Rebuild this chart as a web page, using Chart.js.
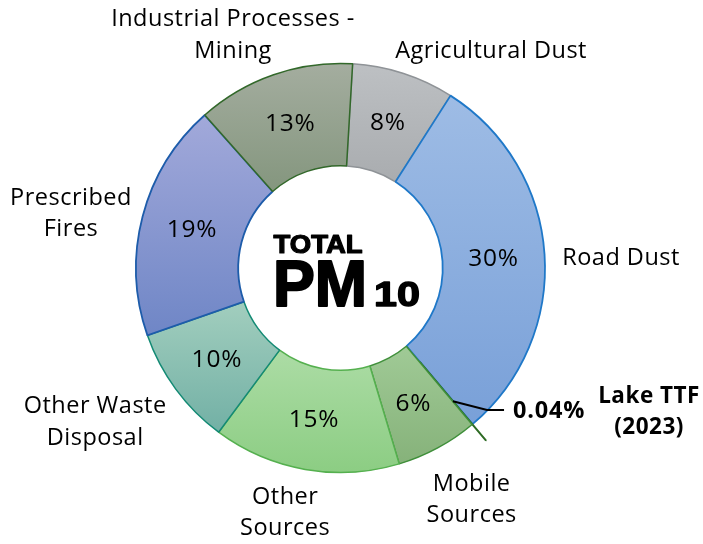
<!DOCTYPE html>
<html><head><meta charset="utf-8">
<script src="https://cdn.jsdelivr.net/npm/chart.js@4.4.1/dist/chart.umd.min.js"></script>
<style>html,body{margin:0;padding:0;background:#fff;overflow:hidden}#wrap{width:703px;height:544px;position:relative}</style>
</head><body><div id="wrap"><canvas id="c" width="703" height="544"></canvas></div>
<script>
// ---- data ----
const categories = ['Agricultural Dust','Road Dust','Lake TTF (2023)','Mobile Sources','Other Sources','Other Waste Disposal','Prescribed Fires','Industrial Processes - Mining'];
const categoryLines = [['Agricultural Dust'],['Road Dust'],['Lake TTF','(2023)'],['Mobile','Sources'],['Other','Sources'],['Other Waste','Disposal'],['Prescribed','Fires'],['Industrial Processes -','Mining']];
const shares = [8.1, 29.8, 0.04, 6.5, 14.8, 9.5, 18.8, 12.5];
const shareLabels = ['8%','30%','0.04%','6%','15%','10%','19%','13%'];
const centerTitle = ['TOTAL','PM','10'];

// ---- styles ----
const fillTop    = ['#bdc0c3','#9ebce5','#3d7a33','#a0ca96','#acdca5','#a2cebe','#a2a9da','#a4ad9f'];
const fillBottom = ['#a9acaf','#79a0d8','#3d7a33','#86b27a','#8ccd83','#72b0a5','#6f86c6','#84967e'];
const borders    = ['#8f9397','#1f78c8','#2e6b24','#3f8f3a','#55b04f','#138a74','#1d5caa','#32682a'];
const offsets    = [0,0,42,0,0,0,0,0];
const highlight  = 2; // index of the emphasised slice
// label nudges from the slice's outer-edge anchor (layout only)
const labelNudge = [[87.5,-22.5],[76.5,3.7],[176.7,-12.4],[34,52],[-20,43.5],[-80.6,33],[-71.6,-2.8],[-40.6,-39.3]];
const OUTER = 204.5, ROT = 3.4;
const LABEL_FONT = '23.5px "Open Sans"';
const PCT_FONT = '24.5px "Open Sans"';

function sliceGradient(context) {
  const chart = context.chart, area = chart.chartArea, i = context.dataIndex;
  if (!area) return fillTop[i];
  const cx = (area.left + area.right) / 2, cy = (area.top + area.bottom) / 2;
  const total = shares.reduce((a, b) => a + b, 0);
  let cum = 0; for (let k = 0; k < i; k++) cum += shares[k];
  const a0 = (-90 + ROT + cum / total * 360) * Math.PI / 180;
  const a1 = (-90 + ROT + (cum + shares[i]) / total * 360) * Math.PI / 180;
  let ymin = 1e9, ymax = -1e9;
  for (let s = 0; s <= 60; s++) {
    const a = a0 + (a1 - a0) * s / 60;
    for (const r of [OUTER, OUTER / 2]) {
      const y = cy + r * Math.sin(a);
      ymin = Math.min(ymin, y); ymax = Math.max(ymax, y);
    }
  }
  if (ymax - ymin < 1) return fillTop[i];
  const g = chart.ctx.createLinearGradient(0, ymin, 0, ymax);
  g.addColorStop(0, fillTop[i]); g.addColorStop(1, fillBottom[i]);
  return g;
}

const labelPlugin = {
  id: 'labels',
  afterDatasetsDraw(chart) {
    const ctx = chart.ctx;
    const meta = chart.getDatasetMeta(0);
    ctx.save();
    meta.data.forEach((arc, i) => {
      const p = arc.getProps(['x','y','startAngle','endAngle','innerRadius','outerRadius']);
      const mid = (p.startAngle + p.endAngle) / 2;
      const ax = p.x + p.outerRadius * Math.cos(mid), ay = p.y + p.outerRadius * Math.sin(mid);
      // category label
      const bx = ax + labelNudge[i][0], by = ay + labelNudge[i][1];
      const lines = categoryLines[i];
      const lh = 31.5;
      ctx.fillStyle = '#000';
      ctx.textAlign = 'center'; ctx.textBaseline = 'middle';
      ctx.font = (i === highlight ? 'bold 22.5px "Open Sans"' : LABEL_FONT);
      ctx.letterSpacing = '0.5px';
      lines.forEach((t, k) => ctx.fillText(t, bx, by + (k - (lines.length - 1) / 2) * lh));
      // percentage
      if (i === highlight) {
        const shift = offsets[i] / 2;
        const rm = (p.innerRadius + p.outerRadius) / 2 + shift;
        const sx = p.x + rm * Math.cos(mid), sy = p.y + rm * Math.sin(mid);
        const tx = ax + 40.7, ty = ay - 13.4;
        ctx.strokeStyle = '#000'; ctx.lineWidth = 2;
        ctx.beginPath(); ctx.moveTo(sx, sy); ctx.lineTo(tx - 26, ty - 1); ctx.lineTo(tx - 9, ty - 1); ctx.stroke();
        ctx.font = 'bold 23.5px "Open Sans"'; ctx.letterSpacing = '0.8px';
        ctx.textAlign = 'left';
        ctx.fillText(shareLabels[i], tx, ty);
      } else {
        const c = arc.getCenterPoint();
        ctx.font = PCT_FONT; ctx.letterSpacing = '0.8px';
        ctx.textAlign = 'center';
        ctx.fillText(shareLabels[i], c.x, c.y + 1);
      }
    });
    // centre title
    const c0 = meta.data[0].getProps(['x','y']);
    ctx.letterSpacing = '0px';
    ctx.textAlign = 'left'; ctx.textBaseline = 'alphabetic';
    ctx.fillStyle = '#000'; ctx.strokeStyle = '#000'; ctx.lineJoin = 'round';
    function heavy(t, x, y, font, sx, lw) {
      ctx.save(); ctx.translate(x, y); ctx.scale(sx, 1);
      ctx.font = font; ctx.lineWidth = lw;
      ctx.fillText(t, 0, 0); ctx.strokeText(t, 0, 0);
      ctx.restore();
    }
    heavy(centerTitle[0], c0.x - 67, c0.y - 15.5, 'bold 25px "Liberation Sans"', 1.1, 1.2);
    heavy(centerTitle[1], c0.x - 67.5, c0.y + 38, 'bold 64px "Liberation Sans"', 0.98, 2);
    heavy(centerTitle[2], c0.x + 33.5, c0.y + 38, 'bold 35px "Liberation Sans"', 1.18, 1.4);
    ctx.restore();
  }
};

new Chart(document.getElementById('c'), {
  type: 'doughnut',
  data: {
    labels: categories,
    datasets: [{
      data: shares,
      backgroundColor: sliceGradient,
      borderColor: borders,
      borderWidth: [1.5,1.8,2,1.5,1.5,1.5,1.8,1.5],
      offset: offsets,
      radius: OUTER,
      cutout: '50%',
      hoverOffset: 0
    }]
  },
  options: {
    responsive: false,
    animation: false,
    rotation: ROT,
    radius: OUTER,
    cutout: '50%',
    layout: { padding: { left: 136, right: 158, top: 64, bottom: 72 } },
    plugins: { legend: { display: false }, tooltip: { enabled: false } },
    events: []
  },
  plugins: [labelPlugin]
});
</script></body></html>
